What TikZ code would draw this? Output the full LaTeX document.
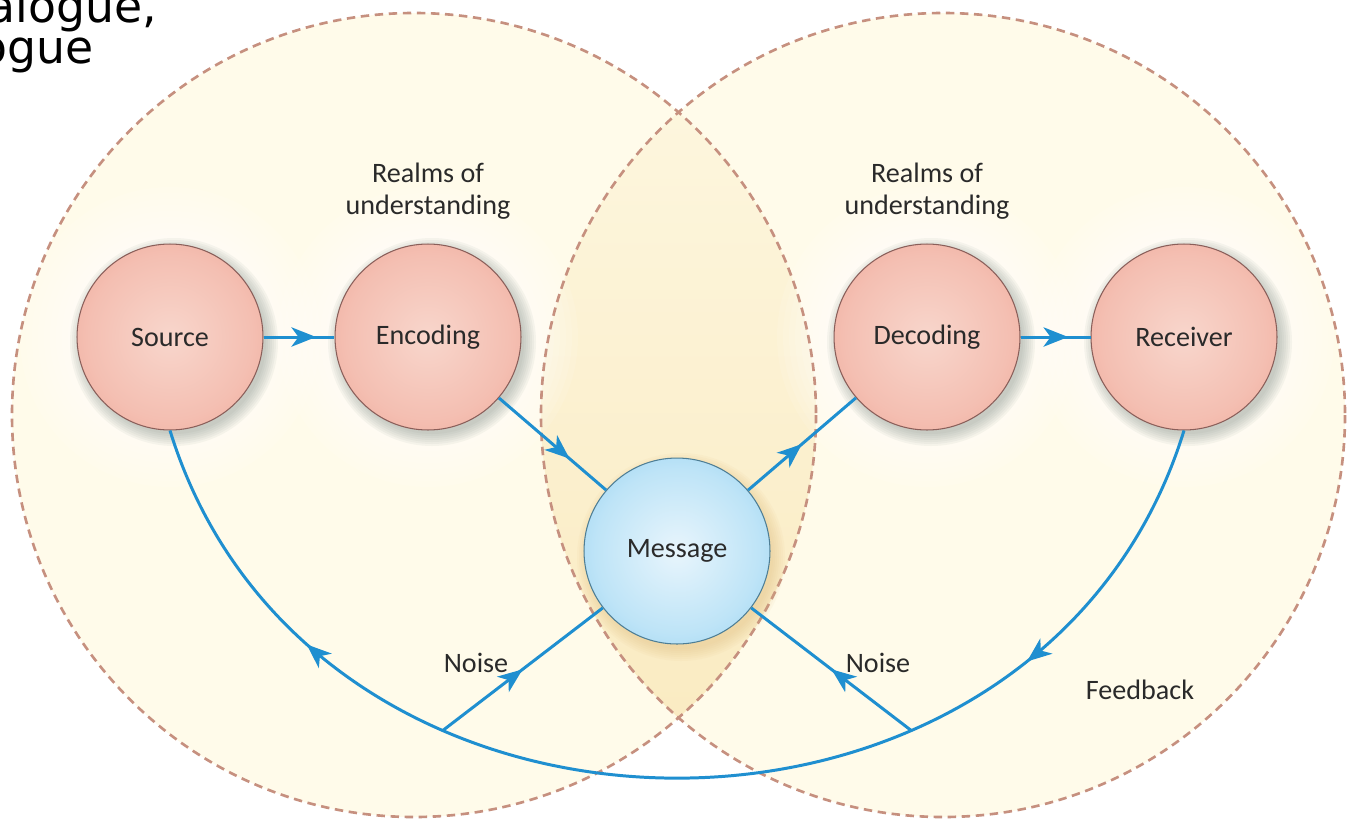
\documentclass[tikz,border=0pt]{standalone}
\usepackage{fontspec}
\setmainfont{Carlito}
\newfontfamily\headfont{DejaVu Sans}
\usetikzlibrary{arrows.meta,decorations.markings}

% palette
\definecolor{cream}{HTML}{FFFBEA}
\definecolor{lensTop}{HTML}{FDF6DE}
\definecolor{lensMid}{HTML}{FCF1D0}
\definecolor{lensBot}{HTML}{FAEBC2}
\definecolor{ringDash}{HTML}{C6907F}
\definecolor{flow}{HTML}{1F8FD0}
\definecolor{labelInk}{HTML}{2A2A2A}
\definecolor{pinkA}{HTML}{F8D6CC}
\definecolor{pinkB}{HTML}{F4BFB2}
\definecolor{pinkC}{HTML}{EEA090}
\definecolor{pinkD}{HTML}{EFA898}
\definecolor{pinkE}{HTML}{F5C6BA}
\definecolor{pinkEdge}{HTML}{8A5F5A}
\definecolor{blueA}{HTML}{E8F5FC}
\definecolor{blueB}{HTML}{BEE4F7}
\definecolor{blueC}{HTML}{8ACCF0}
\definecolor{blueD}{HTML}{8FCEF0}
\definecolor{blueE}{HTML}{B4DEF4}
\definecolor{blueEdge}{HTML}{4E7E95}
\definecolor{shadowCol}{HTML}{7C8A80}
\definecolor{msgShadow}{HTML}{E2BE7E}

% ball shadings
\pgfdeclareradialshading{pinkball}{\pgfpoint{0bp}{0bp}}{color(0bp)=(pinkA); color(22bp)=(pinkB); color(40bp)=(pinkC); color(46bp)=(pinkD); color(50bp)=(pinkE)}
\pgfdeclareradialshading{blueball}{\pgfpoint{0bp}{0bp}}{color(0bp)=(blueA); color(22bp)=(blueB); color(40bp)=(blueC); color(46bp)=(blueD); color(50bp)=(blueE)}

\tikzset{
  ball/.style={circle, minimum size=3.72cm, inner sep=0pt, draw=pinkEdge,
    line width=0.6pt, shading=pinkball, text=labelInk,
    font=\fontsize{16}{19}\selectfont},
  msgball/.style={ball, draw=blueEdge, shading=blueball},
  lbl/.style={text=labelInk, align=center, font=\fontsize{16}{18.5}\selectfont},
  headtxt/.style={text=black, inner sep=0pt, font=\headfont\fontsize{26}{31}\selectfont},
  ringline/.style={draw=ringDash, line width=1.5pt, dash pattern=on 4.8pt off 3.2pt},
  flowline/.style={draw=flow, line width=1.7pt},
  flowtip/.tip={Stealth[length=14pt, width=11pt, inset=4pt]},
  midarrow/.style={postaction={decorate, decoration={markings,
    mark=at position #1 with {\arrow[flow]{flowtip}}}}},
  twoarrows/.style 2 args={postaction={decorate, decoration={markings,
    mark=at position #1 with {\arrow[flow]{flowtip}},
    mark=at position #2 with {\arrow[flow]{flowtip}}}}},
  halo/.style={fill=white, opacity=0.1},
  softshadow/.style={fill=shadowCol, opacity=0.07},
}

\begin{document}
\begin{tikzpicture}[x=0.02cm, y=-0.02cm]
  \useasboundingbox (0,0) rectangle (1352,822);
  \clip (0,0) rectangle (1352,822);
  \fill[white] (0,0) rectangle (1352,822);

  % the two realms of understanding
  \fill[cream] (414,415) circle[radius=402];
  \fill[cream] (943,415) circle[radius=402];
  \begin{scope}
    \clip (414,415) circle[radius=402];
    \clip (943,415) circle[radius=402];
    \shade[top color=lensTop, middle color=lensMid, bottom color=lensBot]
      (520,100) rectangle (840,725);
  \end{scope}

  % light halos round the process circles
  \foreach \cx in {170,428,927,1184} {
    \foreach \r in {96,102,...,150} {
      \fill[halo] (\cx,337) circle[radius=\r];
    }
  }

  \draw[ringline] (414,415) circle[radius=402];
  \draw[ringline] (943,415) circle[radius=402];

  % soft shadows under the circles
  \foreach \cx in {170,428,927,1184} {
    \foreach \r in {92,94,...,104} {
      \fill[softshadow] (\cx+4,337+5) circle[radius=\r];
    }
  }
  \foreach \r in {92,94,...,104} {
    \fill[softshadow, fill=msgShadow] (681,557) circle[radius=\r];
  }

  % process circles
  \node[ball] (src) at (170,337) {Source};
  \node[ball] (enc) at (428,337) {Encoding};
  \node[msgball] (msg) at (677,551) {Message};
  \node[ball] (dec) at (927,337) {Decoding};
  \node[ball] (rec) at (1184,337) {Receiver};

  % flow of the message
  \draw[flowline, midarrow=0.74] (src) -- (enc);
  \draw[flowline, midarrow=0.66] (enc) -- (msg);
  \draw[flowline, midarrow=0.50] (msg) -- (dec);
  \draw[flowline, midarrow=0.68] (dec) -- (rec);

  % feedback loop
  \draw[flowline, twoarrows={0.215}{0.805}] (rec.south)
    .. controls (1041,894) and (313,894) .. (src.south)
    coordinate[pos=0.315] (noiseR) coordinate[pos=0.685] (noiseL);

  % noise
  \draw[flowline, midarrow=0.5] (noiseL) -- (msg);
  \draw[flowline, midarrow=0.5] (noiseR) -- (msg);

  % labels
  \node[lbl] (realmsL) at (428,191) {Realms of\\understanding};
  \node[lbl] (realmsR) at (927,191) {Realms of\\understanding};
  \node[lbl] (noiseTxtL) at (476,663) {Noise};
  \node[lbl] (noiseTxtR) at (878,663) {Noise};
  \node[lbl] (feedTxt) at (1140,690) {Feedback};

  % heading running in from the left
  \node[headtxt, anchor=base east] (headA) at (157,22) {alogue,};
  \node[headtxt, anchor=base east] (headB) at (94,63) {ogue};
\end{tikzpicture}
\end{document}
